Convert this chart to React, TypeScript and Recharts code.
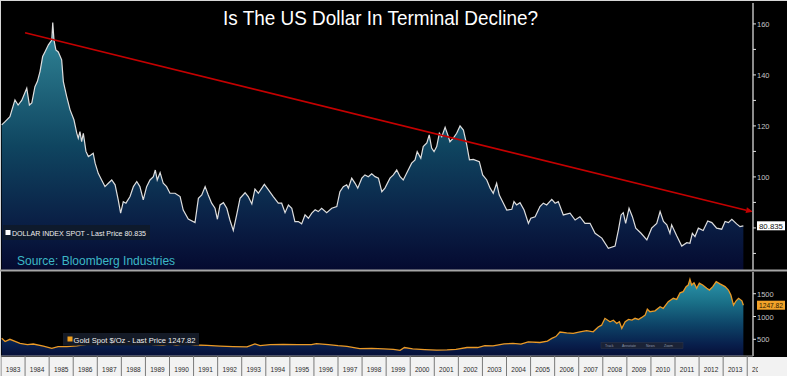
import React from 'react';
import { AreaChart, Area, XAxis, YAxis, ReferenceLine, ReferenceDot } from 'recharts';

// x axis runs in decimal years
const X_MIN = 1983;
const X_MAX = 2014.24;

const YEAR_TICKS = [
  1983, 1984, 1985, 1986, 1987, 1988, 1989, 1990, 1991, 1992, 1993, 1994, 1995, 1996, 1997, 1998,
  1999, 2000, 2001, 2002, 2003, 2004, 2005, 2006, 2007, 2008, 2009, 2010, 2011, 2012, 2013, 2014,
];

const DOLLAR_TICKS = [70, 80, 90, 100, 110, 120, 130, 140, 150, 160];
const DOLLAR_LABELS = [100, 120, 140, 160];
const DOLLAR_DOMAIN = [63.5, 168.2];
const DOLLAR_LAST = 80.835;

const GOLD_TICKS = [500, 1000, 1500];
const GOLD_DOMAIN = [134, 1976];
const GOLD_LAST = 1247.82;

// red "terminal decline" trend line, start and end in data units
const TREND_START = [1984.0, 156.5];
const TREND_END = [2014.24, 86.3];

const DOLLAR_INDEX: [number, number][] = [
  [1983.03, 120.4], [1983.17, 121.7], [1983.37, 123.6], [1983.58, 130.2], [1983.71, 128.2], [1983.86, 130.0],
  [1984.07, 134.8], [1984.18, 128.2], [1984.28, 129.0], [1984.41, 135.4], [1984.51, 137.4], [1984.62, 141.3],
  [1984.73, 147.2], [1984.83, 149.1], [1984.97, 151.8], [1985.11, 153.7], [1985.15, 160.5], [1985.2, 153.7],
  [1985.28, 149.8], [1985.38, 149.0], [1985.52, 145.9], [1985.59, 137.4], [1985.73, 131.5], [1985.87, 126.3],
  [1986.03, 122.4], [1986.15, 117.1], [1986.21, 115.2], [1986.28, 117.8], [1986.35, 113.8], [1986.42, 117.1],
  [1986.53, 110.0], [1986.63, 108.0], [1986.73, 108.6], [1986.83, 109.3], [1986.91, 105.4], [1987.04, 101.4],
  [1987.18, 98.8], [1987.32, 96.2], [1987.46, 97.5], [1987.6, 98.8], [1987.74, 96.9], [1987.87, 91.0],
  [1987.97, 85.8], [1988.08, 90.3], [1988.19, 89.7], [1988.36, 92.3], [1988.5, 96.2], [1988.64, 98.2],
  [1988.77, 96.2], [1988.91, 91.0], [1989.05, 96.2], [1989.19, 98.8], [1989.33, 100.1], [1989.41, 102.7],
  [1989.49, 98.8], [1989.61, 101.7], [1989.74, 97.5], [1989.88, 96.2], [1990.02, 93.6], [1990.23, 93.6],
  [1990.44, 92.3], [1990.57, 87.0], [1990.78, 83.5], [1991.06, 82.1], [1991.2, 91.6], [1991.34, 92.9],
  [1991.48, 96.2], [1991.61, 92.9], [1991.75, 89.7], [1991.89, 87.7], [1991.99, 83.4], [1992.1, 89.0],
  [1992.24, 89.9], [1992.38, 87.7], [1992.51, 83.1], [1992.65, 79.0], [1992.79, 85.1], [1992.93, 91.6],
  [1993.14, 93.8], [1993.27, 92.3], [1993.42, 89.4], [1993.55, 95.2], [1993.69, 93.6], [1993.94, 97.1],
  [1994.11, 94.9], [1994.31, 92.3], [1994.52, 89.7], [1994.66, 89.7], [1994.8, 86.0], [1994.94, 89.0],
  [1995.08, 87.7], [1995.21, 82.5], [1995.35, 82.5], [1995.49, 81.6], [1995.63, 85.1], [1995.77, 83.8],
  [1995.91, 85.8], [1996.05, 87.1], [1996.18, 86.4], [1996.32, 87.7], [1996.53, 86.0], [1996.74, 87.7],
  [1996.95, 88.4], [1997.08, 94.2], [1997.22, 96.2], [1997.36, 96.9], [1997.43, 95.6], [1997.57, 99.5],
  [1997.71, 97.5], [1997.82, 95.6], [1997.99, 99.5], [1998.12, 100.8], [1998.26, 100.1], [1998.4, 101.2],
  [1998.54, 100.1], [1998.68, 99.5], [1998.82, 94.2], [1998.95, 95.6], [1999.16, 99.5], [1999.3, 100.8],
  [1999.44, 102.7], [1999.58, 100.1], [1999.71, 98.8], [1999.85, 101.4], [2000.06, 105.4], [2000.2, 106.7],
  [2000.29, 109.9], [2000.44, 107.3], [2000.54, 111.9], [2000.69, 113.3], [2000.79, 116.5], [2000.89, 111.3],
  [2000.99, 109.9], [2001.1, 111.9], [2001.21, 117.1], [2001.31, 115.8], [2001.45, 119.5], [2001.56, 116.5],
  [2001.65, 113.8], [2001.79, 115.2], [2001.93, 117.1], [2002.07, 120.0], [2002.21, 118.4], [2002.35, 112.5],
  [2002.46, 106.7], [2002.62, 106.9], [2002.87, 106.0], [2003.01, 100.8], [2003.18, 98.8], [2003.32, 95.6],
  [2003.45, 93.6], [2003.59, 97.5], [2003.7, 92.9], [2003.84, 90.3], [2004.01, 87.0], [2004.22, 87.3],
  [2004.31, 90.3], [2004.42, 89.0], [2004.56, 89.9], [2004.73, 87.0], [2004.91, 81.8], [2005.01, 83.8],
  [2005.19, 84.4], [2005.39, 88.4], [2005.53, 89.7], [2005.67, 89.0], [2005.88, 91.2], [2006.02, 89.7],
  [2006.15, 90.3], [2006.36, 85.1], [2006.64, 85.8], [2006.85, 83.1], [2007.05, 84.4], [2007.26, 81.8],
  [2007.47, 81.8], [2007.68, 77.9], [2007.96, 76.0], [2008.23, 72.0], [2008.51, 72.9], [2008.65, 79.2],
  [2008.76, 85.1], [2008.85, 86.0], [2008.95, 81.8], [2009.09, 87.7], [2009.23, 84.4], [2009.37, 79.9],
  [2009.59, 77.9], [2009.83, 75.3], [2010.03, 79.9], [2010.24, 81.8], [2010.38, 86.4], [2010.52, 82.5],
  [2010.66, 81.2], [2010.79, 77.9], [2010.86, 81.2], [2011.07, 76.9], [2011.28, 72.9], [2011.49, 74.2],
  [2011.62, 74.0], [2011.72, 77.9], [2011.83, 76.6], [2011.97, 79.9], [2012.17, 79.0], [2012.36, 82.7],
  [2012.53, 82.1], [2012.73, 79.9], [2012.94, 79.5], [2013.08, 82.5], [2013.22, 82.1], [2013.36, 83.4],
  [2013.56, 81.6], [2013.7, 80.5], [2013.84, 80.8],
];

const GOLD_SPOT: [number, number][] = [
  [1983.03, 522], [1983.17, 450], [1983.37, 500], [1983.79, 412], [1984.1, 385], [1984.34, 397],
  [1984.76, 353], [1985.11, 303], [1985.37, 338], [1985.73, 340], [1986.15, 355], [1986.56, 390],
  [1986.83, 430], [1987.05, 410], [1987.25, 450], [1987.5, 455], [1987.74, 465], [1987.95, 485],
  [1988.2, 445], [1988.48, 440], [1988.9, 420], [1989.31, 385], [1989.73, 365], [1990.0, 405],
  [1990.3, 370], [1990.64, 410], [1991.06, 375], [1991.56, 365], [1992.1, 350], [1992.64, 340],
  [1993.22, 335], [1993.55, 400], [1993.76, 360], [1994.18, 385], [1994.72, 390], [1995.34, 385],
  [1995.9, 385], [1996.1, 405], [1996.6, 385], [1997.0, 360], [1997.37, 345], [1997.9, 295],
  [1998.4, 300], [1998.9, 290], [1999.3, 280], [1999.58, 258], [1999.76, 320], [2000.1, 290],
  [2000.6, 275], [2001.1, 265], [2001.53, 270], [2001.9, 280], [2002.36, 320], [2002.8, 320],
  [2003.1, 360], [2003.44, 355], [2003.9, 400], [2004.27, 410], [2004.6, 395], [2004.9, 445],
  [2005.39, 430], [2005.7, 460], [2005.88, 520], [2006.05, 560], [2006.22, 660], [2006.5, 640],
  [2006.77, 630], [2007.05, 665], [2007.33, 690], [2007.6, 665], [2007.81, 770], [2007.95, 810],
  [2008.09, 960], [2008.3, 885], [2008.44, 920], [2008.58, 850], [2008.69, 885], [2008.79, 740],
  [2008.93, 885], [2009.07, 935], [2009.21, 920], [2009.34, 960], [2009.48, 935], [2009.62, 980],
  [2009.76, 1030], [2009.85, 1160], [2009.96, 1105], [2010.17, 1125], [2010.38, 1215], [2010.51, 1180],
  [2010.72, 1325], [2010.93, 1400], [2011.07, 1375], [2011.21, 1520], [2011.34, 1545], [2011.46, 1655],
  [2011.55, 1690], [2011.62, 1815], [2011.69, 1690], [2011.79, 1740], [2011.9, 1620], [2012.01, 1730],
  [2012.15, 1690], [2012.32, 1620], [2012.43, 1580], [2012.57, 1655], [2012.71, 1765], [2012.87, 1715],
  [2013.08, 1655], [2013.22, 1580], [2013.32, 1470], [2013.43, 1250], [2013.54, 1345], [2013.64, 1400],
  [2013.78, 1345], [2013.84, 1248],
];

const FONT = '"Liberation Sans", Arial, sans-serif';
const CHART_W = 785;
const AXIS_W = 33;
const YEAR_PX = (CHART_W - AXIS_W) / (X_MAX - X_MIN);

const dollarData = DOLLAR_INDEX.map(([t, v]) => ({ t, v }));
const goldData = GOLD_SPOT.map(([t, v]) => ({ t, v }));

const DollarTick = (props: any) => {
  const { x, y, payload } = props;
  if (!DOLLAR_LABELS.includes(payload.value)) return <g />;
  return (
    <text x={x} y={y + 3} fill="#c4c4c4" fontSize={7.5} fontFamily={FONT} textAnchor="start">
      {payload.value}
    </text>
  );
};

const GoldTick = (props: any) => {
  const { x, y, payload } = props;
  return (
    <text x={x} y={y + 3} fill="#c4c4c4" fontSize={7.5} fontFamily={FONT} textAnchor="start">
      {payload.value}
    </text>
  );
};

const YearTick = (props: any) => {
  const { x, y, payload } = props;
  return (
    <g>
      <line x1={x} x2={x} y1={y} y2={y + 20} stroke="#7a7a7a" strokeWidth={1} />
      <text
        x={x + YEAR_PX / 2}
        y={y + 15.5}
        fill="#2a2a2a"
        fontSize={7.5}
        fontFamily={FONT}
        textAnchor="middle"
        textLength={14.5}
        lengthAdjust="spacingAndGlyphs"
        clipPath="url(#yearClip)"
      >
        {payload.value}
      </text>
    </g>
  );
};

const ArrowLine = (p: any) => {
  const { x1, y1, x2, y2 } = p;
  const ang = Math.atan2(y2 - y1, x2 - x1);
  const len = 7;
  const wid = 3;
  const bx = x2 - len * Math.cos(ang);
  const by = y2 - len * Math.sin(ang);
  const pts = `${x2},${y2} ${bx - wid * Math.sin(ang)},${by + wid * Math.cos(ang)} ${bx + wid * Math.sin(ang)},${by - wid * Math.cos(ang)}`;
  return (
    <g>
      <line x1={x1} y1={y1} x2={bx} y2={by} stroke="#c40000" strokeWidth={1.6} />
      <polygon points={pts} fill="#c40000" />
    </g>
  );
};

const PriceBox = (bg: string, fg: string, text: string) => (p: any) => (
  <g>
    <rect x={p.cx + 4} y={p.cy - 4.5} width={28} height={9} fill={bg} />
    <text x={p.cx + 18} y={p.cy + 2.8} fill={fg} fontSize={7.5} fontFamily={FONT} textAnchor="middle" textLength={24} lengthAdjust="spacingAndGlyphs">
      {text}
    </text>
  </g>
);

export default function App() {
  return (
    <div style={{ position: 'absolute', left: 0, top: 0, width: 787, height: 376, background: '#000', overflow: 'hidden', fontFamily: FONT }}>
      {/* white strip behind the year labels */}
      <div style={{ position: 'absolute', left: 0, top: 357, width: 787, height: 19, background: '#f2f2f2' }} />

      {/* dollar index panel */}
      <div style={{ position: 'absolute', left: 1, top: 3 }}>
        <AreaChart width={CHART_W} height={267} data={dollarData} margin={{ top: 0, right: 0, bottom: 0, left: 0 }}>
          <defs>
            <linearGradient id="dollarFill" x1="0" y1="0" x2="0" y2="1">
              <stop offset="0%" stopColor="#3491a6" />
              <stop offset="15%" stopColor="#287589" />
              <stop offset="50%" stopColor="#0f4560" />
              <stop offset="80%" stopColor="#0a2046" />
              <stop offset="100%" stopColor="#050a30" />
            </linearGradient>
          </defs>
          <XAxis type="number" dataKey="t" domain={[X_MIN, X_MAX]} allowDataOverflow hide />
          <YAxis
            orientation="right"
            width={AXIS_W}
            domain={DOLLAR_DOMAIN}
            allowDataOverflow
            ticks={DOLLAR_TICKS}
            interval={0}
            axisLine={{ stroke: '#8c8c8c', strokeWidth: 2 }}
            tickLine={{ stroke: '#e0e0e0' }}
            tickSize={3}
            tickMargin={1}
            tick={<DollarTick />}
          />
          <Area
            type="linear"
            dataKey="v"
            stroke="#dedede"
            strokeWidth={1.2}
            fill="url(#dollarFill)"
            fillOpacity={1}
            dot={false}
            activeDot={false}
            isAnimationActive={false}
          />
          <ReferenceLine
            segment={[{ x: TREND_START[0], y: TREND_START[1] }, { x: TREND_END[0], y: TREND_END[1] }]}
            stroke="#c40000"
            ifOverflow="visible"
            shape={ArrowLine}
          />
          <ReferenceDot x={X_MAX} y={DOLLAR_LAST} shape={PriceBox('#ffffff', '#111111', '80.835')} />
        </AreaChart>
      </div>

      {/* gold panel with the year axis */}
      <div style={{ position: 'absolute', left: 1, top: 272 }}>
        <AreaChart width={CHART_W} height={104} data={goldData} margin={{ top: 0, right: 0, bottom: 0, left: 0 }}>
          <defs>
            <linearGradient id="goldFill" x1="0" y1="0" x2="0" y2="1">
              <stop offset="0%" stopColor="#2b95ab" />
              <stop offset="30%" stopColor="#1a7088" />
              <stop offset="60%" stopColor="#0d4266" />
              <stop offset="85%" stopColor="#081f4c" />
              <stop offset="100%" stopColor="#060f38" />
            </linearGradient>
            <clipPath id="yearClip">
              <rect x={-10} y={0} width={767} height={120} />
            </clipPath>
          </defs>
          <XAxis
            type="number"
            dataKey="t"
            domain={[X_MIN, X_MAX]}
            allowDataOverflow
            ticks={YEAR_TICKS}
            interval={0}
            height={20}
            tickLine={false}
            tickSize={0}
            tickMargin={0}
            axisLine={{ stroke: '#9a9a9a' }}
            tick={<YearTick />}
          />
          <YAxis
            orientation="right"
            width={AXIS_W}
            domain={GOLD_DOMAIN}
            allowDataOverflow
            ticks={GOLD_TICKS}
            interval={0}
            axisLine={{ stroke: '#8c8c8c', strokeWidth: 2 }}
            tickLine={{ stroke: '#e0e0e0' }}
            tickSize={3}
            tickMargin={1}
            tick={<GoldTick />}
          />
          <Area
            type="linear"
            dataKey="v"
            stroke="#eb9a26"
            strokeWidth={1.3}
            fill="url(#goldFill)"
            fillOpacity={1}
            dot={false}
            activeDot={false}
            isAnimationActive={false}
          />
          <ReferenceDot x={X_MAX} y={GOLD_LAST} shape={PriceBox('#f2a229', '#2a1a00', '1247.82')} />
        </AreaChart>
      </div>

      {/* annotations drawn over both panels */}
      <svg width={787} height={376} style={{ position: 'absolute', left: 0, top: 0, pointerEvents: 'none' }}>
        <line x1={0} y1={0.5} x2={787} y2={0.5} stroke="#d6d6d6" />
        <line x1={0.5} y1={0} x2={0.5} y2={376} stroke="#d6d6d6" />
        <rect x={0} y={269.5} width={787} height={2} fill="#a6a6a6" />

        <text x={223} y={25} fill="#ffffff" fontSize={20} fontFamily={FONT} textLength={315} lengthAdjust="spacingAndGlyphs">
          Is The US Dollar In Terminal Decline?
        </text>

        <rect x={3} y={225} width={147} height={15} fill="#0e1a2c" />
        <rect x={5.5} y={230} width={5} height={5} fill="#ffffff" />
        <text x={12} y={235.5} fill="#eeeeee" fontSize={8} fontFamily={FONT} textLength={134} lengthAdjust="spacingAndGlyphs">
          DOLLAR INDEX SPOT - Last Price 80.835
        </text>

        <text x={17} y={264.5} fill="#3cb8c6" fontSize={12} fontFamily={FONT}>
          Source: Bloomberg Industries
        </text>

        <rect x={63} y={333} width={136} height={12.5} fill="#141a26" />
        <rect x={67.5} y={336.5} width={5} height={5} fill="#f0a020" />
        <text x={73.5} y={342.7} fill="#eeeeee" fontSize={7.5} fontFamily={FONT} textLength={122} lengthAdjust="spacingAndGlyphs">
          Gold Spot $/Oz - Last Price 1247.82
        </text>

        <rect x={601} y={342.5} width={82} height={6} fill="#1a2236" stroke="#2e364a" strokeWidth={0.5} />
        <text x={605} y={347} fill="#8a93a8" fontSize={3.5} fontFamily={FONT}>Track</text>
        <text x={622} y={347} fill="#8a93a8" fontSize={3.5} fontFamily={FONT}>Annotate</text>
        <text x={646} y={347} fill="#8a93a8" fontSize={3.5} fontFamily={FONT}>News</text>
        <text x={664} y={347} fill="#8a93a8" fontSize={3.5} fontFamily={FONT}>Zoom</text>
      </svg>
    </div>
  );
}
